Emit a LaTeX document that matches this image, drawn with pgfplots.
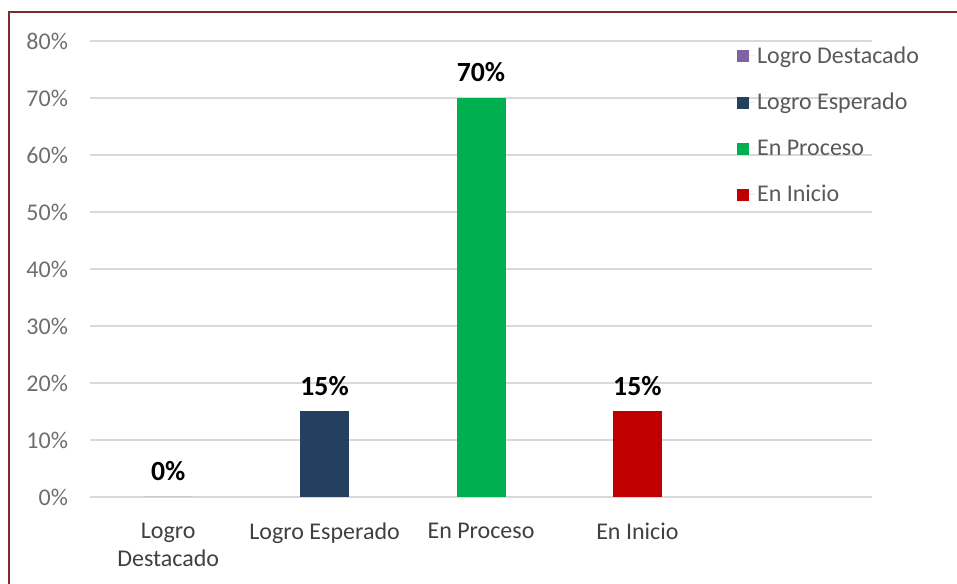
\documentclass[border=0pt]{standalone}
\usepackage{fontspec}
\setmainfont{Carlito}
\usepackage{pgfplots}
\pgfplotsset{compat=1.18}
\definecolor{tickgray}{HTML}{6E6E6E}
\definecolor{labgray}{HTML}{404040}
\definecolor{leggray}{HTML}{595959}
\definecolor{gridgray}{HTML}{D9D9D9}
\definecolor{frame}{HTML}{7B2C2C}
\definecolor{cDest}{HTML}{8064A2}
\definecolor{cEsp}{HTML}{243F60}
\definecolor{cProc}{HTML}{00B050}
\definecolor{cIni}{HTML}{C00000}
\begin{document}
\begin{tikzpicture}
\path[use as bounding box] (0,0) rectangle (717.75pt,438pt);
\draw[frame, line width=1.6pt] (6.75pt,0) -- (6.75pt,429pt) -- (720pt,429pt);
\begin{axis}[
  at={(67.5pt,65.25pt)}, anchor=south west,
  scale only axis,
  width=586.5pt, height=342pt,
  ybar, bar width=36.75pt, bar shift=0pt,
  xmin=-0.5, xmax=4.5,
  ymin=0, ymax=80,
  xtick={0,1,2,3},
  xticklabels={Logro\\Destacado, Logro Esperado, En Proceso, En Inicio},
  ytick={0,10,...,80},
  yticklabel={\pgfmathprintnumber{\tick}\%},
  /pgf/number format/assume math mode=true,
  axis line style={draw=none},
  major tick style={draw=none},
  ymajorgrids, grid style={gridgray, line width=1.4pt},
  tick label style={font=\fontsize{18}{21}\selectfont},
  yticklabel style={xshift=-13pt, text=tickgray},
  xticklabel style={align=center, text=labgray, yshift=-11.5pt},
  clip=false,
  nodes near coords={\pgfmathprintnumber{\pgfplotspointmeta}\%},
  every node near coord/.append style={font=\bfseries\fontsize{20.8}{24}\selectfont, text=black, yshift=8.5pt},
  legend style={draw=none, fill=none, at={(0.822,1.0)}, anchor=north west,
    font=\fontsize{18}{21}\selectfont, text=leggray, row sep=17pt},
  legend cell align=left,
  legend image code/.code={\fill[#1] (0pt,-4.5pt) rectangle (9pt,4.5pt); \path (0pt,0pt) -- (13pt,0pt);},
]
\addplot[fill=cDest, draw=none] coordinates {(0,0)};
\addplot[fill=cEsp, draw=none] coordinates {(1,15)};
\addplot[fill=cProc, draw=none] coordinates {(2,70)};
\addplot[fill=cIni, draw=none] coordinates {(3,15)};
\legend{Logro Destacado, Logro Esperado, En Proceso, En Inicio}
\end{axis}
\end{tikzpicture}
\end{document}
